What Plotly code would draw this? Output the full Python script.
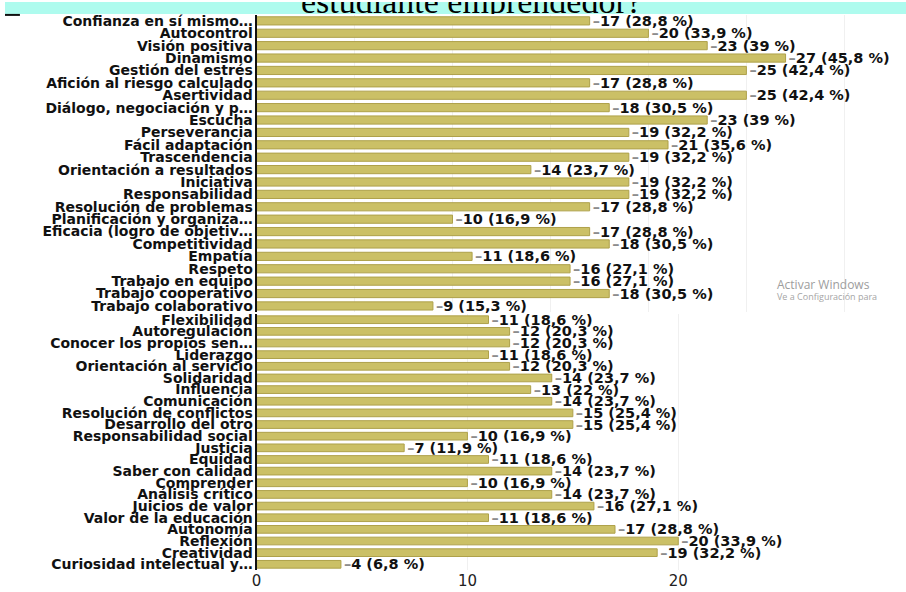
import plotly.graph_objects as go

# ---------------- data ----------------
top_labels = [
    "Confianza en sí mismo…", "Autocontrol", "Visión positiva", "Dinamismo",
    "Gestión del estrés", "Afición al riesgo calculado", "Asertividad",
    "Diálogo, negociación y p…", "Escucha", "Perseverancia", "Fácil adaptación",
    "Trascendencia", "Orientación a resultados", "Iniciativa", "Responsabilidad",
    "Resolución de problemas", "Planificación y organiza…", "Eficacia (logro de objetiv…",
    "Competitividad", "Empatía", "Respeto", "Trabajo en equipo",
    "Trabajo cooperativo", "Trabajo colaborativo",
]
top_counts = [17, 20, 23, 27, 25, 17, 25, 18, 23, 19, 21, 19, 14, 19, 19, 17, 10, 17,
              18, 11, 16, 16, 18, 9]
top_pcts = [28.8, 33.9, 39, 45.8, 42.4, 28.8, 42.4, 30.5, 39, 32.2, 35.6, 32.2, 23.7,
            32.2, 32.2, 28.8, 16.9, 28.8, 30.5, 18.6, 27.1, 27.1, 30.5, 15.3]

bottom_labels = [
    "Flexibilidad", "Autoregulación", "Conocer los propios sen…", "Liderazgo",
    "Orientación al servicio", "Solidaridad", "Influencia", "Comunicación",
    "Resolución de conflictos", "Desarrollo del otro", "Responsabilidad social",
    "Justicia", "Equidad", "Saber con calidad", "Comprender", "Análisis crítico",
    "Juicios de valor", "Valor de la educación", "Autonomía", "Reflexión",
    "Creatividad", "Curiosidad intelectual y…",
]
bottom_counts = [11, 12, 12, 11, 12, 14, 13, 14, 15, 15, 10, 7, 11, 14, 10, 14, 16, 11,
                 17, 20, 19, 4]
bottom_pcts = [18.6, 20.3, 20.3, 18.6, 20.3, 23.7, 22, 23.7, 25.4, 25.4, 16.9, 11.9,
               18.6, 23.7, 16.9, 23.7, 27.1, 18.6, 28.8, 33.9, 32.2, 6.8]

x_ticks = [0, 10, 20]
title_text = "estudiante emprendedor?"

# ---------------- styling ----------------
W, H = 906, 592
BAR = "#cbc066"
BAR_LINE = "#aea14a"
FONT = "DejaVu Sans"
LAB = 14
VAL = 14.5


def fmt(c, p):
    ps = f"{p:g}".replace(".", ",")
    return f"<span style='color:#8c8c8c'>–</span>{c} ({ps} %)"


fig = go.Figure()
fig.add_trace(go.Bar(
    x=top_counts, y=top_labels, orientation="h",
    marker=dict(color=BAR, line=dict(color=BAR_LINE, width=1)),
    text=[fmt(c, p) for c, p in zip(top_counts, top_pcts)],
    textposition="outside", constraintext="none", cliponaxis=False,
    textfont=dict(family=FONT, size=VAL, color="#111", weight="bold"),
    xaxis="x", yaxis="y", showlegend=False, hoverinfo="skip",
))
fig.add_trace(go.Bar(
    x=bottom_counts, y=bottom_labels, orientation="h",
    marker=dict(color=BAR, line=dict(color=BAR_LINE, width=1)),
    text=[fmt(c, p) for c, p in zip(bottom_counts, bottom_pcts)],
    textposition="outside", constraintext="none", cliponaxis=False,
    textfont=dict(family=FONT, size=VAL, color="#111", weight="bold"),
    xaxis="x2", yaxis="y2", showlegend=False, hoverinfo="skip",
))
# cropped title (clipped by its own small axis area)
fig.add_trace(go.Scatter(
    x=[469 / W], y=[0.8], mode="text", text=[title_text],
    textposition="middle center", cliponaxis=True,
    textfont=dict(family="Liberation Serif", size=34, color="#000"),
    xaxis="x3", yaxis="y3", showlegend=False, hoverinfo="skip",
))

x0 = 253 / W
fig.update_layout(
    width=W, height=H, margin=dict(l=0, r=0, t=0, b=0),
    paper_bgcolor="white", plot_bgcolor="rgba(0,0,0,0)",
    bargap=0.34,
    xaxis=dict(domain=[x0, 1.0], range=[0, (W - 253) / 19.7], anchor="y",
               showticklabels=False, ticks="", dtick=5, showgrid=True,
               gridcolor="#f0f0f0", zeroline=False, showline=False),
    yaxis=dict(domain=[1 - 312.25 / H, 1 - 12.75 / H], anchor="x",
               categoryorder="array", categoryarray=top_labels,
               tickmode="array", tickvals=top_labels,
               range=[len(top_labels) - 0.5, -0.5], ticks="",
               showline=True, linecolor="#111", linewidth=2,
               tickfont=dict(family=FONT, size=LAB, color="#111", weight="bold"),
               ticklabelstandoff=-1),
    xaxis2=dict(domain=[x0, 808 / W], range=[0, (808 - 253) / 21.2], anchor="y2",
                tickmode="array", tickvals=x_ticks, ticktext=[str(v) for v in x_ticks],
                ticks="", showgrid=True, gridcolor="#f0f0f0",
                zeroline=False, showline=False, ticklabelstandoff=0,
                tickfont=dict(family=FONT, size=15, color="#222")),
    yaxis2=dict(domain=[1 - 572 / H, 1 - 314 / H], anchor="x2",
                categoryorder="array", categoryarray=bottom_labels,
                tickmode="array", tickvals=bottom_labels,
                range=[len(bottom_labels) - 0.5, -0.5], ticks="",
                showline=True, linecolor="#111", linewidth=2,
                tickfont=dict(family=FONT, size=LAB, color="#111", weight="bold"),
                ticklabelstandoff=-1),
    xaxis3=dict(domain=[0, 1], range=[0, 1], anchor="y3", visible=False),
    yaxis3=dict(domain=[1 - 12 / H, 1], range=[0, 1], anchor="x3", visible=False),
)

# title band (cropped screenshot header)
fig.add_shape(type="rect", xref="paper", yref="paper", x0=0, x1=1,
              y0=1 - 12 / H, y1=1, fillcolor="#aefbee", line_width=0, layer="below")
fig.add_shape(type="line", xref="paper", yref="paper", x0=0, x1=15 / W,
              y0=1 - 13 / H, y1=1 - 13 / H, line=dict(color="#111", width=2))

# watermark
fig.add_annotation(text="Activar Windows", xref="paper", yref="paper", x=774 / W,
                   y=1 - 284 / H, xanchor="left", yanchor="middle", showarrow=False,
                   font=dict(family="Open Sans", size=12, color="#9d9d9d"))
fig.add_annotation(text="Ve a Configuración para", xref="paper", yref="paper", x=774 / W,
                   y=1 - 297 / H, xanchor="left", yanchor="middle", showarrow=False,
                   font=dict(family="Open Sans", size=9, color="#a5a5a5"))

fig.write_html("out.html", config={"displayModeBar": False},
               post_script="document.body.style.margin='0';document.body.style.overflow='hidden';")
